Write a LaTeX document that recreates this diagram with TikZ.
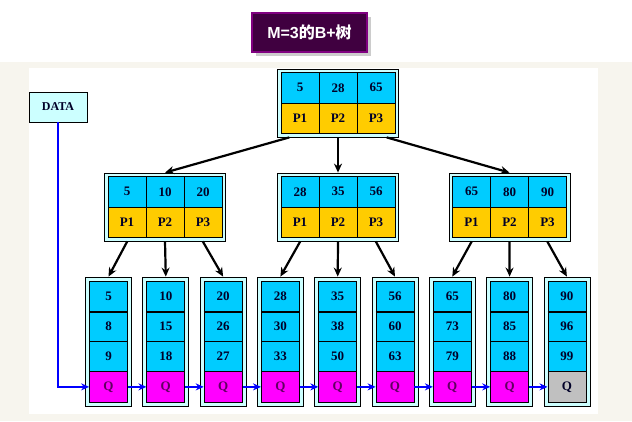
\documentclass[tikz,border=0pt]{standalone}
\usepackage{fontspec}
\setmainfont{Liberation Serif}
\newfontfamily\titlefont{Liberation Sans}
\newfontfamily\cjk{Noto Sans CJK SC}
\usetikzlibrary{arrows.meta,shadows,calc}
\definecolor{keyblue}{RGB}{0,204,255}
\definecolor{ptryellow}{RGB}{255,204,0}
\definecolor{qmag}{RGB}{255,0,255}
\definecolor{qgray}{RGB}{192,192,192}
\definecolor{qtext}{RGB}{96,0,96}
\definecolor{celltext}{RGB}{0,0,40}
\definecolor{boxcyan}{RGB}{204,255,255}
\definecolor{beige}{RGB}{247,245,238}
\definecolor{titlefill}{RGB}{64,0,64}
\definecolor{titleborder}{RGB}{128,0,128}
\definecolor{linkblue}{RGB}{0,0,255}
\tikzset{
 cell/.style={draw=black, line width=0.8pt, minimum width=38pt, minimum height=30.5pt, inner sep=0pt, text=celltext, font=\bfseries\fontsize{13}{13}\selectfont},
 keycell/.style={cell, fill=keyblue},
 ptrcell/.style={cell, fill=ptryellow},
 leafcell/.style={cell, minimum height=30.25pt, fill=keyblue},
 qcell/.style={leafcell, fill=qmag, text=qtext},
 qlast/.style={leafcell, fill=qgray},
 frame/.style={draw=black, line width=0.8pt, fill=boxcyan, inner sep=0pt},
 treearrow/.style={line width=2.2pt, -{Stealth[length=9pt,width=8pt]}},
 linkarrow/.style={draw=linkblue, line width=2pt, -{Stealth[length=8pt,width=7pt]}},
}
\newcommand\innernode[6]{%
 \node[frame, minimum width=121pt, minimum height=68pt] (#1) at (#2,#3) {};
 \node[keycell] (#1-k1) at (#2-38,#3-15.25) {#4};
 \node[keycell] (#1-k2) at (#2,#3-15.25) {#5};
 \node[keycell] (#1-k3) at (#2+38,#3-15.25) {#6};
 \node[ptrcell] (#1-p1) at (#2-38,#3+15.25) {P1};
 \node[ptrcell] (#1-p2) at (#2,#3+15.25) {P2};
 \node[ptrcell] (#1-p3) at (#2+38,#3+15.25) {P3};
}
\newcommand\leafnode[6]{%
 \node[frame, minimum width=46pt, minimum height=129pt] (#1) at (#2,341.5) {};
 \node[leafcell] (#1-a) at (#2,296.125) {#3};
 \node[leafcell] (#1-b) at (#2,326.375) {#4};
 \node[leafcell] (#1-c) at (#2,356.625) {#5};
 \node[#6] (#1-q) at (#2,386.875) {Q};
 \draw[line width=1.8pt] (#1-a.south west) -- (#1-a.south east);
}
\begin{document}
\begin{tikzpicture}[x=1pt,y=-1pt]
\useasboundingbox (0,0) rectangle (632,421);
\fill[white] (0,0) rectangle (632,421);
\fill[beige] (0,62) rectangle (632,421);
\fill[white] (29,68) rectangle (598,414);
% title
\node[draw=titleborder, line width=2pt, fill=titlefill, minimum width=115pt, minimum height=39pt,
  text=white, font=\titlefont\bfseries\fontsize{16}{16}\selectfont,
  drop shadow={shadow xshift=4pt, shadow yshift=-4pt, opacity=0.4}] (title) at (309.5,32.5) {M=3{\cjk\bfseries 的}B+{\cjk\bfseries 树}};
% DATA
\node[draw=black, line width=0.8pt, fill=boxcyan, minimum width=58pt, minimum height=30pt,
  text=celltext, font=\bfseries\fontsize{12}{12}\selectfont] (data) at (58,107) {DATA};
% inner nodes
\innernode{r}{338}{103}{5}{28}{65}
\innernode{m1}{165}{207}{5}{10}{20}
\innernode{m2}{338}{207}{28}{35}{56}
\innernode{m3}{509.5}{207}{65}{80}{90}
% leaves
\leafnode{l1}{108.5}{5}{8}{9}{qcell}
\leafnode{l2}{165.8}{10}{15}{18}{qcell}
\leafnode{l3}{223.1}{20}{26}{27}{qcell}
\leafnode{l4}{280.4}{28}{30}{33}{qcell}
\leafnode{l5}{337.7}{35}{38}{50}{qcell}
\leafnode{l6}{395}{56}{60}{63}{qcell}
\leafnode{l7}{452.3}{65}{73}{79}{qcell}
\leafnode{l8}{509.6}{80}{85}{88}{qcell}
\leafnode{l9}{566.9}{90}{96}{99}{qlast}
% tree arrows
\draw[treearrow] ($(r.south west)!0.1!(r.south east)$) -- (m1.north);
\draw[treearrow] (r.south) -- (m2.north);
\draw[treearrow] ($(r.south west)!0.9!(r.south east)$) -- (m3.north);
\foreach \m/\a/\b/\c in {m1/l1/l2/l3, m2/l4/l5/l6, m3/l7/l8/l9}{
  \draw[treearrow] ($(\m.south west)!0.19!(\m.south east)$) -- (\a.north);
  \draw[treearrow] (\m.south) -- (\b.north);
  \draw[treearrow] ($(\m.south west)!0.81!(\m.south east)$) -- (\c.north);
}
% leaf links
\draw[linkarrow] (data.south) |- (l1-q.west);
\foreach \a/\b in {l1/l2, l2/l3, l3/l4, l4/l5, l5/l6, l6/l7, l7/l8, l8/l9}{
  \draw[linkarrow] (\a-q.east) -- (\b-q.west);
}
\end{tikzpicture}
\end{document}
